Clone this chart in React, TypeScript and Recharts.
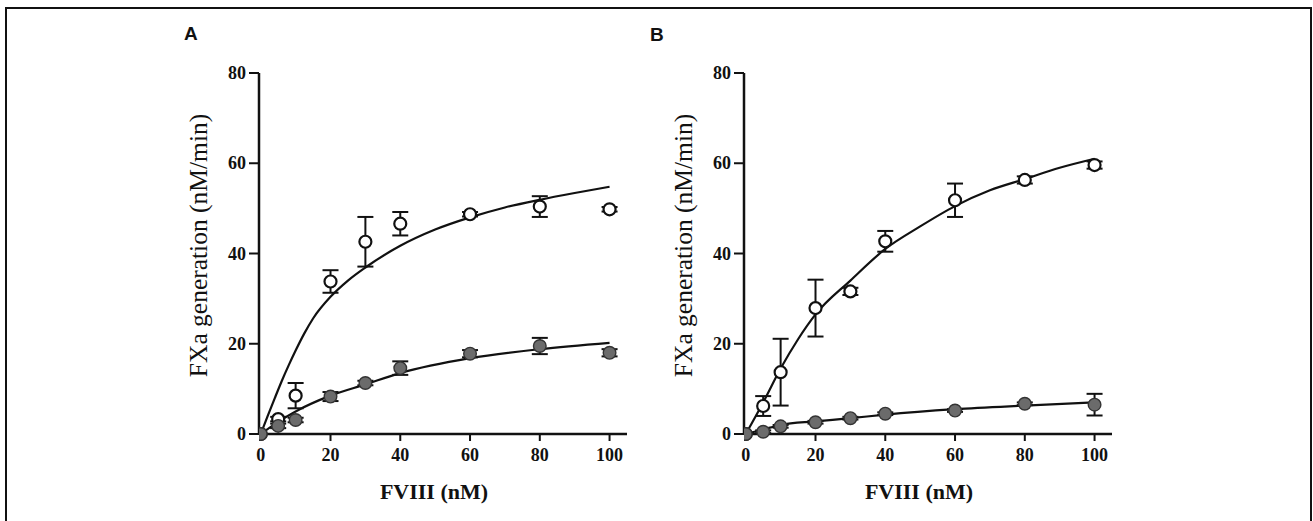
import React from "react";
import {
  ComposedChart,
  Line,
  Scatter,
  ErrorBar,
  XAxis,
  YAxis,
} from "recharts";

// panel A — measured points (x = FVIII nM, y = FXa nM/min, err = SD)
const openA = [
  { x: 0, y: 0, err: 0 },
  { x: 5, y: 3.3, err: 0.5 },
  { x: 10, y: 8.5, err: 2.8 },
  { x: 20, y: 33.8, err: 2.5 },
  { x: 30, y: 42.6, err: 5.5 },
  { x: 40, y: 46.6, err: 2.6 },
  { x: 60, y: 48.7, err: 0.5 },
  { x: 80, y: 50.4, err: 2.3 },
  { x: 100, y: 49.8, err: 0.5 },
];
const filledA = [
  { x: 0, y: 0, err: 0 },
  { x: 5, y: 1.8, err: 0.5 },
  { x: 10, y: 3.1, err: 0.5 },
  { x: 20, y: 8.3, err: 1 },
  { x: 30, y: 11.3, err: 0.5 },
  { x: 40, y: 14.6, err: 1.5 },
  { x: 60, y: 17.8, err: 0.8 },
  { x: 80, y: 19.5, err: 1.8 },
  { x: 100, y: 18.0, err: 0.8 },
];
// panel A — fitted curves
const fitOpenA = [
  { x: 0, y: 0 },
  { x: 2, y: 4 },
  { x: 4, y: 7.9 },
  { x: 6, y: 11.7 },
  { x: 8, y: 15.2 },
  { x: 10, y: 18.5 },
  { x: 12.5, y: 22.3 },
  { x: 15, y: 25.6 },
  { x: 20, y: 30.4 },
  { x: 25, y: 34 },
  { x: 30, y: 36.9 },
  { x: 40, y: 41.7 },
  { x: 50, y: 45.3 },
  { x: 60, y: 48 },
  { x: 70, y: 50.2 },
  { x: 80, y: 51.9 },
  { x: 90, y: 53.4 },
  { x: 100, y: 54.8 },
];
const fitFilledA = [
  { x: 0, y: 0 },
  { x: 5, y: 2.7 },
  { x: 10, y: 5 },
  { x: 20, y: 8.5 },
  { x: 30, y: 11 },
  { x: 40, y: 13.5 },
  { x: 60, y: 16.8 },
  { x: 80, y: 18.8 },
  { x: 100, y: 20.2 },
];

// panel B
const openB = [
  { x: 0, y: 0, err: 0 },
  { x: 5, y: 6.2, err: 2.2 },
  { x: 10, y: 13.7, err: 7.4 },
  { x: 20, y: 27.9, err: 6.3 },
  { x: 30, y: 31.6, err: 0.8 },
  { x: 40, y: 42.7, err: 2.3 },
  { x: 60, y: 51.8, err: 3.7 },
  { x: 80, y: 56.3, err: 0.8 },
  { x: 100, y: 59.6, err: 0.8 },
];
const filledB = [
  { x: 0, y: 0, err: 0 },
  { x: 5, y: 0.5, err: 0.3 },
  { x: 10, y: 1.7, err: 0.3 },
  { x: 20, y: 2.6, err: 0.3 },
  { x: 30, y: 3.5, err: 0.3 },
  { x: 40, y: 4.5, err: 0.3 },
  { x: 60, y: 5.2, err: 0.3 },
  { x: 80, y: 6.7, err: 0.3 },
  { x: 100, y: 6.5, err: 2.4 },
];
const fitOpenB = [
  { x: 0, y: 0 },
  { x: 5, y: 7 },
  { x: 10, y: 14.5 },
  { x: 15, y: 21 },
  { x: 20, y: 26.5 },
  { x: 30, y: 34 },
  { x: 40, y: 41 },
  { x: 50, y: 46 },
  { x: 60, y: 50.5 },
  { x: 70, y: 54 },
  { x: 80, y: 56.5 },
  { x: 90, y: 59 },
  { x: 100, y: 61 },
];
const fitFilledB = [
  { x: 0, y: 0 },
  { x: 5, y: 1 },
  { x: 10, y: 2 },
  { x: 20, y: 2.8 },
  { x: 30, y: 3.5 },
  { x: 40, y: 4.3 },
  { x: 60, y: 5.5 },
  { x: 80, y: 6.3 },
  { x: 100, y: 7 },
];

const xTicks = [0, 20, 40, 60, 80, 100];
const yTicks = [0, 20, 40, 60, 80];

const INK = "#111";
const SERIF = "'Liberation Serif', 'Times New Roman', serif";

const openDot = (p: any) => (
  <circle cx={p.cx} cy={p.cy} r={6} fill="#fff" stroke={INK} strokeWidth={2.2} />
);
const filledDot = (p: any) => (
  <circle cx={p.cx} cy={p.cy} r={6.3} fill="#6b6b6b" stroke="#333" strokeWidth={1.4} />
);

const XTick = (p: any) => (
  <text
    x={p.x}
    y={p.y + 18}
    textAnchor="middle"
    style={{ fontFamily: SERIF, fontSize: 18, fontWeight: 700, fill: INK }}
  >
    {p.payload.value}
  </text>
);
const YTick = (p: any) => (
  <text
    x={p.x}
    y={p.y + 6}
    textAnchor="end"
    style={{ fontFamily: SERIF, fontSize: 18, fontWeight: 700, fill: INK }}
  >
    {p.payload.value}
  </text>
);

type PanelProps = {
  left: number;
  open: { x: number; y: number; err: number }[];
  filled: { x: number; y: number; err: number }[];
  fitOpen: { x: number; y: number }[];
  fitFilled: { x: number; y: number }[];
};

function Panel({ left, open, filled, fitOpen, fitFilled }: PanelProps) {
  return (
    <div style={{ position: "absolute", left, top: 40 }}>
      <ComposedChart
        width={490}
        height={470}
        margin={{ top: 33, right: 13, bottom: 0, left: 0 }}
      >
        <XAxis
          type="number"
          dataKey="x"
          domain={[-0.5, 105]}
          ticks={xTicks}
          allowDataOverflow
          height={76}
          tickSize={7}
          tickMargin={2}
          tick={<XTick />}
          axisLine={{ stroke: INK, strokeWidth: 2.5 }}
          tickLine={{ stroke: INK, strokeWidth: 2 }}
          label={{
            value: "FVIII (nM)",
            position: "insideBottom",
            offset: 11,
            dx: -9,
            style: { fontFamily: SERIF, fontSize: 22, fontWeight: 700, fill: INK },
          }}
        />
        <XAxis
          xAxisId="top"
          orientation="top"
          type="number"
          domain={[-0.5, 105]}
          height={0}
          tick={false}
          tickLine={false}
          axisLine={{ stroke: INK, strokeWidth: 2.5 }}
        />
        <YAxis
          type="number"
          domain={[0, 80]}
          ticks={yTicks}
          width={109}
          tickSize={10}
          tickMargin={3}
          tick={<YTick />}
          axisLine={{ stroke: INK, strokeWidth: 2.5 }}
          tickLine={{ stroke: INK, strokeWidth: 2 }}
          label={{
            value: "FXa generation (nM/min)",
            angle: -90,
            position: "insideLeft",
            offset: 48,
            dy: -8,
            style: { fontFamily: SERIF, fontSize: 25.5, fill: INK, textAnchor: "middle" },
          }}
        />
        <YAxis
          yAxisId="right"
          orientation="right"
          domain={[0, 80]}
          width={0}
          tick={false}
          tickLine={false}
          axisLine={{ stroke: INK, strokeWidth: 2.5 }}
        />
        <Line
          data={fitOpen}
          dataKey="y"
          type="monotone"
          stroke={INK}
          strokeWidth={2.2}
          dot={false}
          isAnimationActive={false}
        />
        <Line
          data={fitFilled}
          dataKey="y"
          type="monotone"
          stroke={INK}
          strokeWidth={2.2}
          dot={false}
          isAnimationActive={false}
        />
        <Scatter data={open} dataKey="y" shape={openDot} isAnimationActive={false}>
          <ErrorBar dataKey="err" direction="y" width={8} stroke={INK} strokeWidth={2} />
        </Scatter>
        <Scatter data={filled} dataKey="y" shape={filledDot} isAnimationActive={false}>
          <ErrorBar dataKey="err" direction="y" width={8} stroke={INK} strokeWidth={2} />
        </Scatter>
      </ComposedChart>
    </div>
  );
}

const letterStyle: React.CSSProperties = {
  position: "absolute",
  fontFamily: "'Liberation Sans', Arial, sans-serif",
  fontWeight: 700,
  fontSize: 19,
  lineHeight: "22px",
  color: INK,
};

export default function App() {
  return (
    <div
      style={{
        position: "absolute",
        left: 0,
        top: 0,
        width: 1313,
        height: 521,
        overflow: "hidden",
        background: "#fff",
      }}
    >
      <div
        style={{
          position: "absolute",
          left: 5,
          top: 7,
          width: 1303,
          height: 600,
          border: `2px solid ${INK}`,
        }}
      />
      <div style={{ ...letterStyle, left: 184, top: 23 }}>A</div>
      <div style={{ ...letterStyle, left: 650, top: 24 }}>B</div>
      <Panel left={150} open={openA} filled={filledA} fitOpen={fitOpenA} fitFilled={fitFilledA} />
      <Panel left={635} open={openB} filled={filledB} fitOpen={fitOpenB} fitFilled={fitFilledB} />
    </div>
  );
}
